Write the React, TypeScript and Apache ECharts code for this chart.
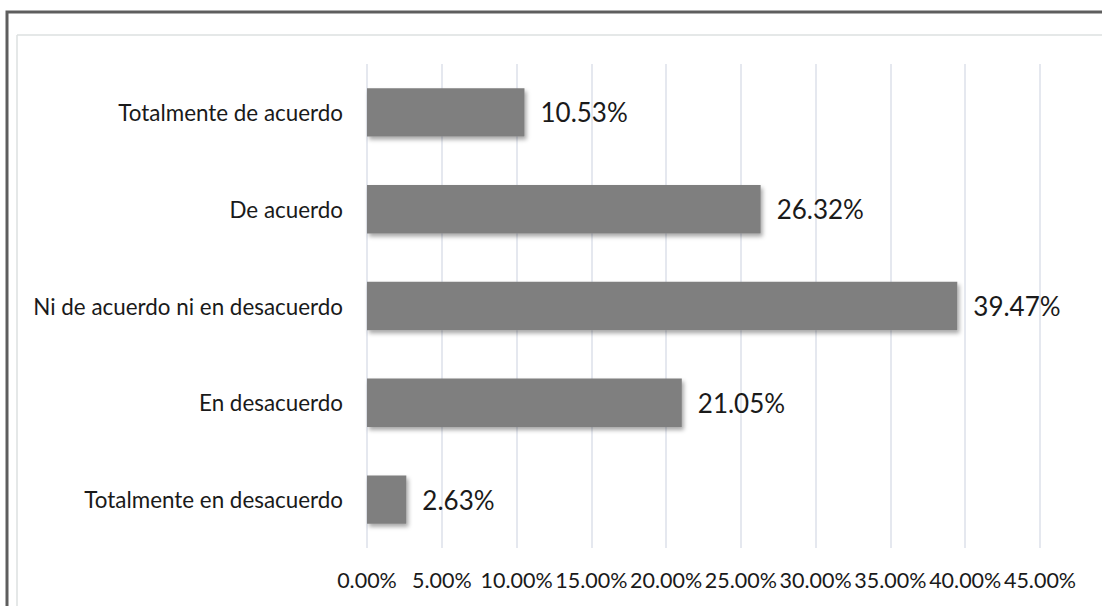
import React, { useEffect, useRef } from "react";
import * as echarts from "echarts";

const categories = [
  "Totalmente de acuerdo",
  "De acuerdo",
  "Ni de acuerdo ni en desacuerdo",
  "En desacuerdo",
  "Totalmente en desacuerdo",
];
const values = [10.53, 26.32, 39.47, 21.05, 2.63];
const axisMin = 0;
const axisMax = 45;
const axisStep = 5;

export default function App() {
  const ref = useRef<HTMLDivElement>(null);
  useEffect(() => {
    document.body.style.margin = "0";
    const chart = echarts.init(ref.current!, null, { renderer: "svg" });
    const font = "Lato, 'Open Sans', sans-serif";
    chart.setOption({
      animation: false,
      backgroundColor: "#ffffff",
      grid: { left: 367, right: 62, top: 64, bottom: 58, containLabel: false },
      xAxis: {
        type: "value",
        min: axisMin,
        max: axisMax,
        interval: axisStep,
        axisLine: { show: false },
        axisTick: { show: false },
        splitLine: { show: true, lineStyle: { color: "#dde1ea", width: 1.5 } },
        axisLabel: {
          margin: 21,
          color: "#1a1a1a",
          fontFamily: font,
          fontSize: 21.5,
          formatter: (v: number) => v.toFixed(2) + "%",
        },
      },
      yAxis: {
        type: "category",
        inverse: true,
        data: categories,
        axisLine: { show: false },
        axisTick: { show: false },
        axisLabel: {
          margin: 24,
          color: "#1a1a1a",
          fontFamily: font,
          fontSize: 22.4,
        },
      },
      series: [
        {
          type: "bar",
          data: values,
          barCategoryGap: "50%",
          itemStyle: {
            color: "#7f7f7f",
            shadowColor: "rgba(0,0,0,0.35)",
            shadowBlur: 4,
            shadowOffsetX: 2,
            shadowOffsetY: 3,
          },
          label: {
            show: true,
            position: "right",
            distance: 16,
            color: "#1a1a1a",
            fontFamily: font,
            fontSize: 26,
            formatter: (p: any) => Number(p.value).toFixed(2) + "%",
          },
        },
      ],
      graphic: [
        {
          type: "line",
          shape: { x1: 17, y1: 35, x2: 1102, y2: 35 },
          style: { stroke: "#dce0e0", lineWidth: 1.5 },
          silent: true,
        },
        {
          type: "line",
          shape: { x1: 17, y1: 35, x2: 17, y2: 606 },
          style: { stroke: "#dce0e0", lineWidth: 1.5 },
          silent: true,
        },
        {
          type: "rect",
          shape: { x: 7, y: 12, width: 1200, height: 800 },
          style: { fill: "none", stroke: "#5e5e5e", lineWidth: 3 },
          silent: true,
        },
      ],
    });
    return () => chart.dispose();
  }, []);
  return (
    <div
      ref={ref}
      style={{ position: "fixed", left: 0, top: 0, width: 1102, height: 606 }}
    />
  );
}
